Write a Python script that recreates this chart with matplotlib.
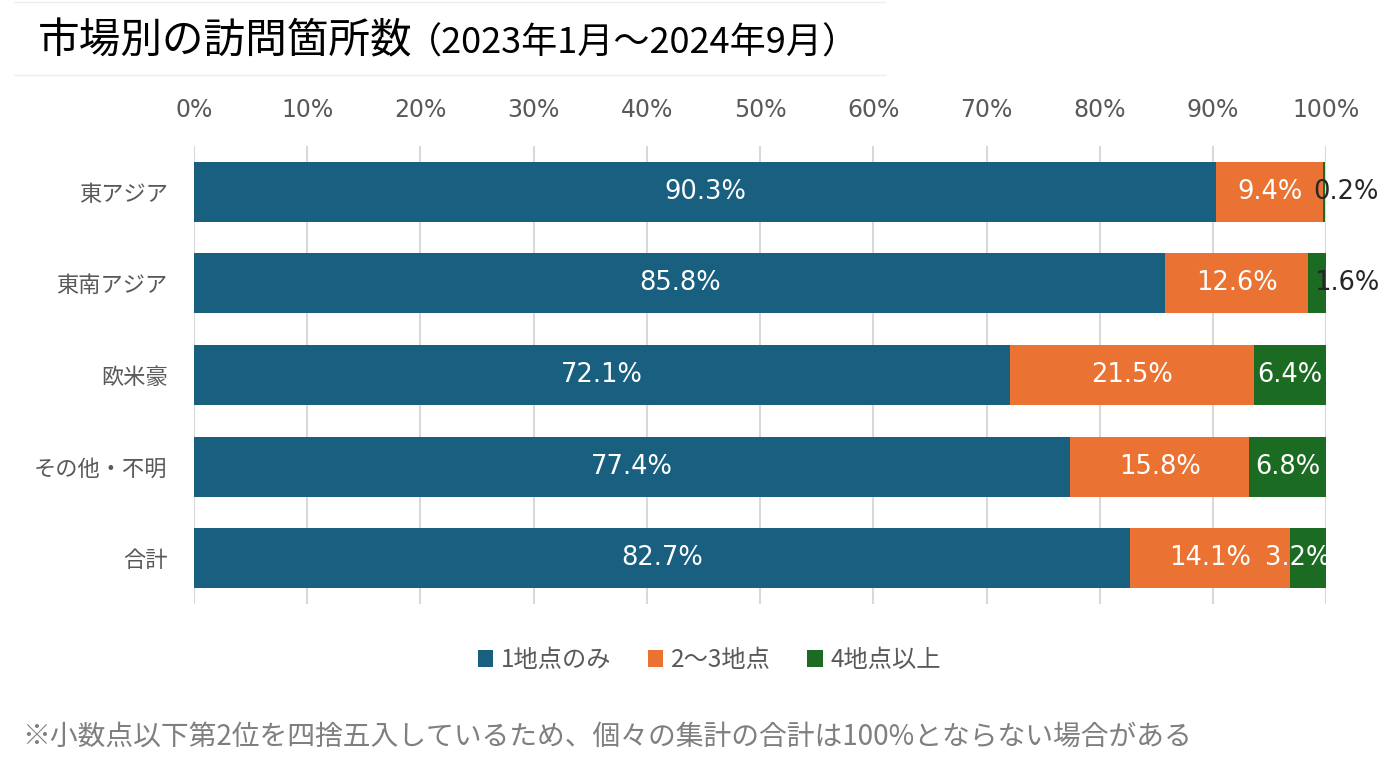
import matplotlib
matplotlib.use('Agg')
import matplotlib.pyplot as plt
from matplotlib.patches import Patch
from matplotlib.lines import Line2D
import numpy as np

plt.rcParams['font.family'] = ['Noto Sans CJK JP', 'DejaVu Sans']

# data
categories = ['東アジア', '東南アジア', '欧米豪', 'その他・不明', '合計']
one_spot = [90.3, 85.8, 72.1, 77.4, 82.7]
two_three = [9.4, 12.6, 21.5, 15.8, 14.1]
four_plus = [0.2, 1.6, 6.4, 6.8, 3.2]
series_names = ['1地点のみ', '2～3地点', '4地点以上']
x_ticks = list(range(0, 101, 10))

colors = ['#185f80', '#ea7232', '#1c6b23']
gray = '#595959'
num_font = ['DejaVu Sans']
lab_size = 18.5

fig = plt.figure(figsize=(13.96, 7.72), dpi=100)
ax = fig.add_axes([0.139, 0.2176, 0.811, 0.5934])

y = np.arange(len(categories))
h = 0.655
left = np.zeros(len(categories))
for vals, col in zip([one_spot, two_three, four_plus], colors):
    ax.barh(y, vals, left=left, height=h, color=col, zorder=2)
    left = left + np.array(vals)

# data labels
for i in range(len(categories)):
    ax.text(one_spot[i] / 2, y[i], '%.1f%%' % one_spot[i], color='white',
            ha='center', va='center', fontsize=lab_size, family=num_font)
    ax.text(one_spot[i] + two_three[i] / 2, y[i], '%.1f%%' % two_three[i],
            color='white', ha='center', va='center', fontsize=lab_size,
            family=num_font)
    g = four_plus[i]
    gx = one_spot[i] + two_three[i]
    if g < 2:
        ax.annotate('%.1f%%' % g, (100, y[i]), xytext=(-9, 0),
                    textcoords='offset points', ha='left', va='center',
                    fontsize=lab_size, family=num_font, color='#262626',
                    annotation_clip=False)
    elif g < 5:
        ax.annotate('%.1f%%' % g, (100, y[i]), xytext=(3, 0),
                    textcoords='offset points', ha='right', va='center',
                    fontsize=lab_size, family=num_font, color='white',
                    clip_on=True)
    else:
        ax.text(gx + g / 2, y[i], '%.1f%%' % g, color='white',
                ha='center', va='center', fontsize=lab_size, family=num_font)

ax.set_xlim(0, 100)
ax.set_ylim(len(categories) - 0.5, -0.5)
ax.set_xticks(x_ticks)
ax.set_xticklabels(['%d%%' % t for t in x_ticks], family=num_font)
ax.set_yticks(y)
ax.set_yticklabels(categories)
ax.xaxis.tick_top()
ax.tick_params(axis='x', length=0, pad=17, labelsize=17, labelcolor=gray)
ax.tick_params(axis='y', length=0, pad=19, labelsize=16, labelcolor=gray)
ax.grid(axis='x', color='#d9d9d9', linewidth=1.5, zorder=0)
for s in ax.spines.values():
    s.set_visible(False)

# legend
handles = [Patch(facecolor=c, edgecolor='none') for c in colors]
fig.legend(handles, series_names, loc='center', bbox_to_anchor=(0.508, 0.145),
           ncol=3, frameon=False, fontsize=17.5, handlelength=0.65,
           handleheight=0.65, handletextpad=0.3, columnspacing=1.5,
           labelcolor=gray)

# title box
fig.add_artist(Line2D([0.01, 0.634], [0.997, 0.997], color='#eeeeee', lw=1))
fig.add_artist(Line2D([0.01, 0.634], [0.903, 0.903], color='#eeeeee', lw=1))
fig.text(38 / 1396, 0.946, '市場別の訪問箇所数', fontsize=30, ha='left', va='center')
fig.text(406 / 1396, 0.943, '（2023年1月～2024年9月）', fontsize=26,
         ha='left', va='center')

# footnote
fig.text(22 / 1396, 1 - 737 / 772,
         '※小数点以下第2位を四捨五入しているため、個々の集計の合計は100%とならない場合がある',
         fontsize=20, color='#7f7f7f', ha='left', va='center')

fig.savefig('out.png', dpi=100)
